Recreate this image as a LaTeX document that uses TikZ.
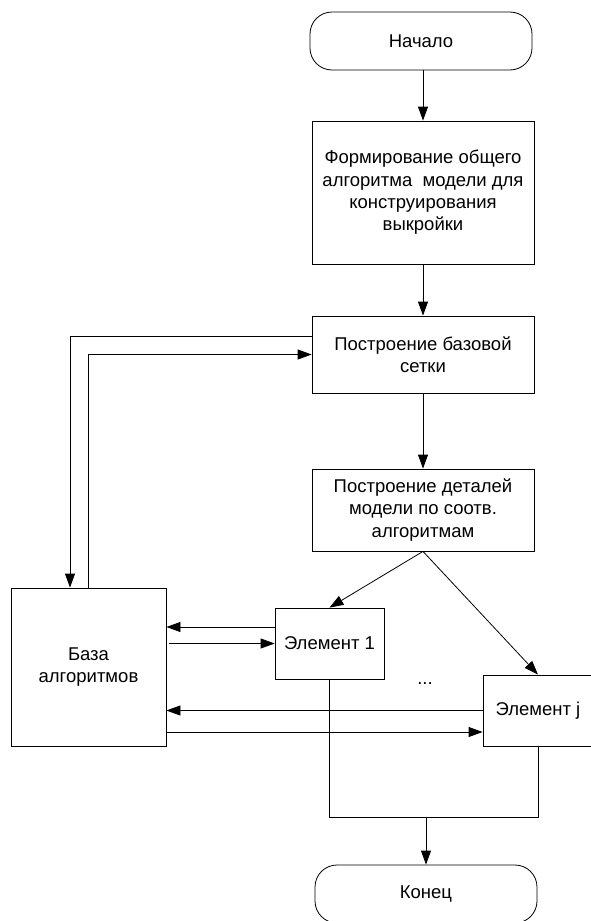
\documentclass[tikz,border=0pt]{standalone}
\usepackage{fontspec}
\setmainfont{Liberation Sans}
\usetikzlibrary{arrows.meta, calc, positioning}

\begin{document}
\begin{tikzpicture}[x=1pt, y=-1pt, line width=0.8pt,
                flow/.style={-{Triangle[length=14pt, width=10pt]}},
                block/.style={draw, rectangle, inner sep=0pt, align=center},
                term/.style={draw, rectangle, rounded corners=22pt, inner sep=0pt,
                             minimum width=222pt, minimum height=58pt}]
            \tikzstyle{every node}=[font=\fontsize{18.5}{22.3}\selectfont]
            \useasboundingbox (0,0) rectangle (591,921);
            \node[term] (start) at (421,41) {Начало};
            \node[block, minimum width=222pt, minimum height=143pt] (form) at (423,192.5)
                {Формирование общего\\алгоритма\ \ модели для\\конструирования\\выкройки};
            \node[block, minimum width=222pt, minimum height=77pt] (grid) at (423,354.5)
                {Построение базовой\\сетки};
            \node[block, minimum width=222pt, minimum height=82pt] (details) at (423,510)
                {Построение деталей\\модели по соотв.\\алгоритмам};
            \node[block, minimum width=155pt, minimum height=158pt] (base) at (88.5,667)
                {База\\алгоритмов};
            \node[block, minimum width=109pt, minimum height=71pt] (elemA) at (329.5,643.5) {Элемент 1};
            \node[block, minimum width=110pt, minimum height=71pt] (elemJ) at (538,710.5) {Элемент j};
            \node (dots) at (425,684) {...};
            \node[term] (finish) at (426,894) {Конец};
            \coordinate (merge) at (426,817);

            \draw[flow] (start.south -| form.north) -- (form.north);
            \draw[flow] (form) -- (grid);
            \draw[flow] (grid) -- (details);
            \draw[flow] ([yshift=18.5pt]grid.west) -| ([xshift=-18.5pt]base.north);
            \draw[flow] (base.north) |- (grid.west);
            \draw[flow] (details.south) -- (elemA.north);
            \draw[flow] (details.south) -- (elemJ.north);
            \draw[flow] ([yshift=16.5pt]elemA.west) -- ([yshift=16.5pt]elemA.west -| base.east);
            \draw[flow] ([xshift=3pt]base.east |- elemA.west) -- (elemA.west);
            \draw[flow] (elemJ.west) -- (elemJ.west -| base.east);
            \draw[flow] ([yshift=-21.5pt]elemJ.west -| base.east) -- ([yshift=-21.5pt]elemJ.west);
            \draw (elemA.south) |- (merge) -| (elemJ.south);
            \draw[flow] (merge) -- (finish.north);
        \end{tikzpicture}
\end{document}
